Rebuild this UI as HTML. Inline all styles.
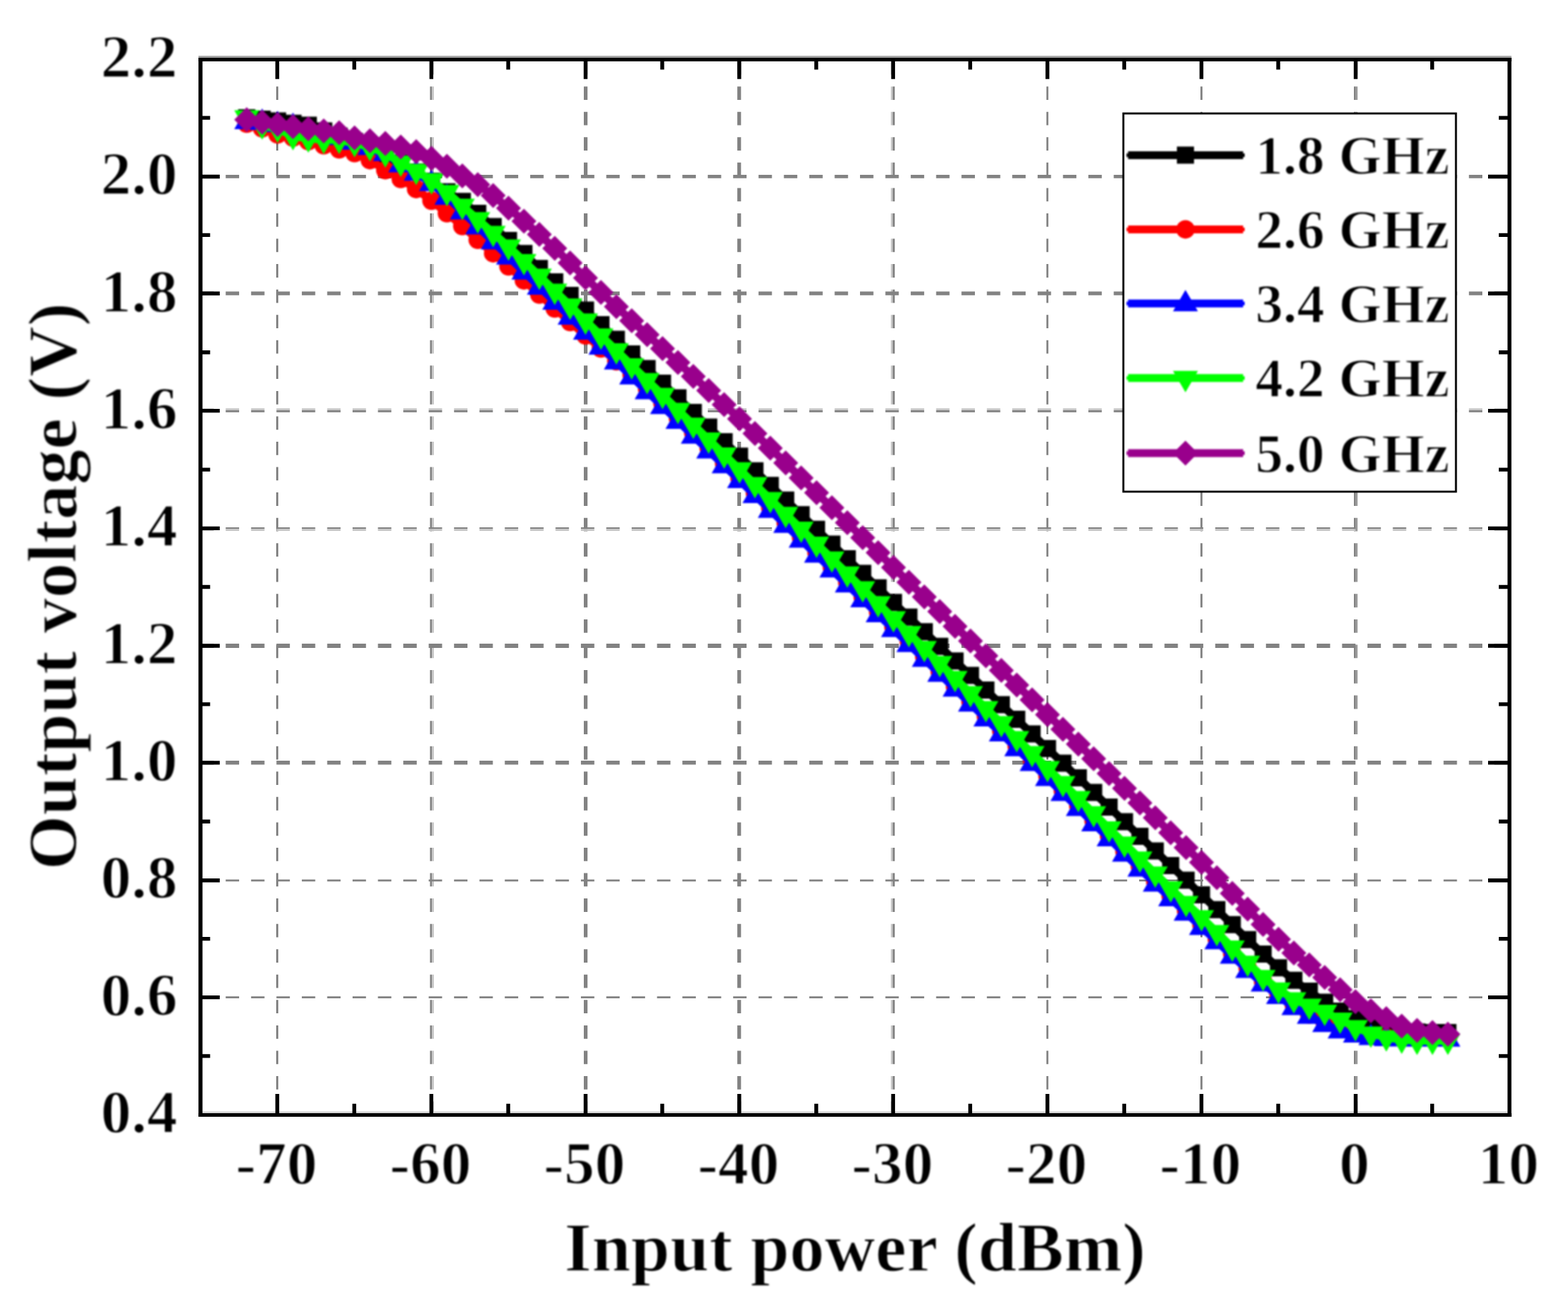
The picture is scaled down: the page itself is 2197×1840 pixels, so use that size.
<!DOCTYPE html>
<html lang="en"><head><meta charset="utf-8"><title>Output voltage vs input power</title>
<style>
html,body{margin:0;padding:0;background:#fff}
svg{display:block}
text{font-family:"Liberation Serif","DejaVu Serif",serif;font-weight:bold;fill:#000;stroke:#fff;stroke-width:1.4px}
.tk{font-size:85px;letter-spacing:0.5px}
.ti{font-size:98px;letter-spacing:0.3px}
.lg{font-size:77.3px;letter-spacing:0.2px}
</style></head><body>
<svg width="2197" height="1840" viewBox="0 0 2197 1840">
<defs><filter id="soft" color-interpolation-filters="sRGB" filterUnits="userSpaceOnUse" x="-20" y="-20" width="2237" height="1880"><feGaussianBlur stdDeviation="0.85"/></filter></defs>
<rect width="2197" height="1840" fill="#fff"/>
<g fill="none" stroke-dasharray="18.8 16.76">
<path d="M388.45 85.6V1562.5" stroke="#828282" stroke-width="2.9"/>
<path d="M603.75 85.6V1562.5" stroke="#828282" stroke-width="2.5"/>
<path d="M606.45 85.6V1562.5" stroke="#c6c6c6" stroke-width="2.9"/>
<path d="M820.60 85.6V1562.5" stroke="#828282" stroke-width="5.2"/>
<path d="M1035.70 85.6V1562.5" stroke="#828282" stroke-width="5.2"/>
<path d="M1249.60 85.6V1562.5" stroke="#c6c6c6" stroke-width="2.6"/>
<path d="M1252.30 85.6V1562.5" stroke="#828282" stroke-width="2.8"/>
<path d="M1467.55 85.6V1562.5" stroke="#828282" stroke-width="2.7"/>
<path d="M1683.40 85.6V1562.5" stroke="#828282" stroke-width="2.8"/>
<path d="M1898.40 85.6V1562.5" stroke="#828282" stroke-width="2.8"/>
<path d="M1901.00 85.6V1562.5" stroke="#9a9a9a" stroke-width="2.4"/>
</g><g fill="none" stroke-dasharray="18.8 16.75">
<path d="M280.7 247.35H2115.0" stroke="#828282" stroke-width="4.9"/>
<path d="M280.7 411.15H2115.0" stroke="#828282" stroke-width="5.1"/>
<path d="M280.7 573.60H2115.0" stroke="#c6c6c6" stroke-width="2.6"/>
<path d="M280.7 576.30H2115.0" stroke="#828282" stroke-width="2.8"/>
<path d="M280.7 740.15H2115.0" stroke="#828282" stroke-width="2.3"/>
<path d="M280.7 742.60H2115.0" stroke="#c6c6c6" stroke-width="2.6"/>
<path d="M280.7 905.00H2115.0" stroke="#828282" stroke-width="5.8"/>
<path d="M280.7 1068.85H2115.0" stroke="#828282" stroke-width="5.5"/>
<path d="M280.7 1233.90H2115.0" stroke="#828282" stroke-width="2.6"/>
<path d="M280.7 1397.55H2115.0" stroke="#828282" stroke-width="2.7"/>
</g>
<g filter="url(#soft)">
<g><path d="M345.7 164.9L367.3 166.9L388.9 169.5L410.5 172.7L432.0 175.4L453.6 183.4L475.2 190.8L496.8 198.2L518.3 208.0L539.9 217.9L561.5 228.5L583.1 240.9L604.6 254.0L626.2 268.8L647.8 282.2L669.4 299.1L691.0 317.5L712.5 336.9L734.1 355.3L755.7 376.3L777.3 395.1L798.8 414.0L820.4 434.5L842.0 455.0L863.6 475.5L885.1 496.0L906.7 516.5L928.3 536.9L949.9 557.4L971.4 577.9L993.0 598.4L1014.6 618.9L1036.2 639.3L1057.8 659.8L1079.3 680.3L1100.9 700.8L1122.5 721.3L1144.1 741.8L1165.6 762.4L1187.2 782.9L1208.8 803.4L1230.4 823.8L1251.9 844.3L1273.5 864.8L1295.1 885.3L1316.7 905.7L1338.2 926.2L1359.8 946.6L1381.4 967.1L1403.0 987.5L1424.6 1008.0L1446.1 1028.4L1467.7 1048.9L1489.3 1069.4L1510.9 1089.9L1532.4 1110.4L1554.0 1130.9L1575.6 1151.4L1597.2 1171.9L1618.7 1192.4L1640.3 1212.9L1661.9 1233.4L1683.5 1253.9L1705.0 1274.7L1726.6 1295.8L1748.2 1316.8L1769.8 1337.1L1791.4 1356.3L1812.9 1373.7L1834.5 1389.0L1856.1 1404.5L1877.7 1417.1L1899.2 1427.4L1920.8 1435.7L1942.4 1441.4L1964.0 1444.6L1985.5 1446.3L2007.1 1446.9L2028.7 1447.1" fill="none" stroke="#000000" stroke-width="11.0" stroke-linejoin="round" stroke-linecap="round"/><path d="M333.7 152.9h24.0v24.0h-24.0zM355.3 154.9h24.0v24.0h-24.0zM376.9 157.5h24.0v24.0h-24.0zM398.5 160.7h24.0v24.0h-24.0zM420.0 163.4h24.0v24.0h-24.0zM441.6 171.4h24.0v24.0h-24.0zM463.2 178.8h24.0v24.0h-24.0zM484.8 186.2h24.0v24.0h-24.0zM506.3 196.0h24.0v24.0h-24.0zM527.9 205.9h24.0v24.0h-24.0zM549.5 216.5h24.0v24.0h-24.0zM571.1 228.9h24.0v24.0h-24.0zM592.6 242.0h24.0v24.0h-24.0zM614.2 256.8h24.0v24.0h-24.0zM635.8 270.2h24.0v24.0h-24.0zM657.4 287.1h24.0v24.0h-24.0zM679.0 305.5h24.0v24.0h-24.0zM700.5 324.9h24.0v24.0h-24.0zM722.1 343.3h24.0v24.0h-24.0zM743.7 364.3h24.0v24.0h-24.0zM765.3 383.1h24.0v24.0h-24.0zM786.8 402.0h24.0v24.0h-24.0zM808.4 422.5h24.0v24.0h-24.0zM830.0 443.0h24.0v24.0h-24.0zM851.6 463.5h24.0v24.0h-24.0zM873.1 484.0h24.0v24.0h-24.0zM894.7 504.5h24.0v24.0h-24.0zM916.3 524.9h24.0v24.0h-24.0zM937.9 545.4h24.0v24.0h-24.0zM959.4 565.9h24.0v24.0h-24.0zM981.0 586.4h24.0v24.0h-24.0zM1002.6 606.9h24.0v24.0h-24.0zM1024.2 627.3h24.0v24.0h-24.0zM1045.8 647.8h24.0v24.0h-24.0zM1067.3 668.3h24.0v24.0h-24.0zM1088.9 688.8h24.0v24.0h-24.0zM1110.5 709.3h24.0v24.0h-24.0zM1132.1 729.8h24.0v24.0h-24.0zM1153.6 750.4h24.0v24.0h-24.0zM1175.2 770.9h24.0v24.0h-24.0zM1196.8 791.4h24.0v24.0h-24.0zM1218.4 811.8h24.0v24.0h-24.0zM1239.9 832.3h24.0v24.0h-24.0zM1261.5 852.8h24.0v24.0h-24.0zM1283.1 873.3h24.0v24.0h-24.0zM1304.7 893.7h24.0v24.0h-24.0zM1326.2 914.2h24.0v24.0h-24.0zM1347.8 934.6h24.0v24.0h-24.0zM1369.4 955.1h24.0v24.0h-24.0zM1391.0 975.5h24.0v24.0h-24.0zM1412.6 996.0h24.0v24.0h-24.0zM1434.1 1016.4h24.0v24.0h-24.0zM1455.7 1036.9h24.0v24.0h-24.0zM1477.3 1057.4h24.0v24.0h-24.0zM1498.9 1077.9h24.0v24.0h-24.0zM1520.4 1098.4h24.0v24.0h-24.0zM1542.0 1118.9h24.0v24.0h-24.0zM1563.6 1139.4h24.0v24.0h-24.0zM1585.2 1159.9h24.0v24.0h-24.0zM1606.7 1180.4h24.0v24.0h-24.0zM1628.3 1200.9h24.0v24.0h-24.0zM1649.9 1221.4h24.0v24.0h-24.0zM1671.5 1241.9h24.0v24.0h-24.0zM1693.0 1262.7h24.0v24.0h-24.0zM1714.6 1283.8h24.0v24.0h-24.0zM1736.2 1304.8h24.0v24.0h-24.0zM1757.8 1325.1h24.0v24.0h-24.0zM1779.4 1344.3h24.0v24.0h-24.0zM1800.9 1361.7h24.0v24.0h-24.0zM1822.5 1377.0h24.0v24.0h-24.0zM1844.1 1392.5h24.0v24.0h-24.0zM1865.7 1405.1h24.0v24.0h-24.0zM1887.2 1415.4h24.0v24.0h-24.0zM1908.8 1423.7h24.0v24.0h-24.0zM1930.4 1429.4h24.0v24.0h-24.0zM1952.0 1432.6h24.0v24.0h-24.0zM1973.5 1434.3h24.0v24.0h-24.0zM1995.1 1434.9h24.0v24.0h-24.0zM2016.7 1435.1h24.0v24.0h-24.0z" fill="#000000"/></g>
<g><path d="M345.7 173.3L367.3 179.9L388.9 188.4L410.5 192.7L432.0 197.9L453.6 203.6L475.2 209.3L496.8 214.6L518.3 224.4L539.9 238.4L561.5 250.7L583.1 264.9L604.6 281.3L626.2 298.7L647.8 316.7L669.4 336.1L691.0 354.9L712.5 373.2L734.1 392.9L755.7 412.8L777.3 432.2L798.8 451.3L820.4 470.1L842.0 488.2L863.6 506.2L885.1 525.2L906.7 544.8L928.3 565.0L949.9 585.7L971.4 606.6L993.0 627.8L1014.6 648.9L1036.2 669.9L1057.8 690.7L1079.3 711.6L1100.9 732.4L1122.5 753.3L1144.1 774.2L1165.6 795.1L1187.2 815.9L1208.8 836.8L1230.4 857.7L1251.9 878.5L1273.5 899.4L1295.1 920.3L1316.7 941.1L1338.2 962.0L1359.8 982.9L1381.4 1003.8L1403.0 1024.6L1424.6 1045.5L1446.1 1066.4L1467.7 1087.2L1489.3 1108.2L1510.9 1129.3L1532.4 1150.6L1554.0 1171.8L1575.6 1193.0L1597.2 1214.1L1618.7 1235.0L1640.3 1255.7L1661.9 1276.0L1683.5 1295.9L1705.0 1316.0L1726.6 1336.4L1748.2 1356.5L1769.8 1375.6L1791.4 1393.2L1812.9 1408.6L1834.5 1421.7L1856.1 1432.4L1877.7 1441.2L1899.2 1447.6L1920.8 1451.6L1942.4 1453.7L1964.0 1454.3L1985.5 1454.8L2007.1 1455.1L2028.7 1455.2" fill="none" stroke="#ff0000" stroke-width="11.0" stroke-linejoin="round" stroke-linecap="round"/><path d="M332.7 173.3a13 13 0 1 0 26 0a13 13 0 1 0 -26 0zM354.3 179.9a13 13 0 1 0 26 0a13 13 0 1 0 -26 0zM375.9 188.4a13 13 0 1 0 26 0a13 13 0 1 0 -26 0zM397.5 192.7a13 13 0 1 0 26 0a13 13 0 1 0 -26 0zM419.0 197.9a13 13 0 1 0 26 0a13 13 0 1 0 -26 0zM440.6 203.6a13 13 0 1 0 26 0a13 13 0 1 0 -26 0zM462.2 209.3a13 13 0 1 0 26 0a13 13 0 1 0 -26 0zM483.8 214.6a13 13 0 1 0 26 0a13 13 0 1 0 -26 0zM505.3 224.4a13 13 0 1 0 26 0a13 13 0 1 0 -26 0zM526.9 238.4a13 13 0 1 0 26 0a13 13 0 1 0 -26 0zM548.5 250.7a13 13 0 1 0 26 0a13 13 0 1 0 -26 0zM570.1 264.9a13 13 0 1 0 26 0a13 13 0 1 0 -26 0zM591.6 281.3a13 13 0 1 0 26 0a13 13 0 1 0 -26 0zM613.2 298.7a13 13 0 1 0 26 0a13 13 0 1 0 -26 0zM634.8 316.7a13 13 0 1 0 26 0a13 13 0 1 0 -26 0zM656.4 336.1a13 13 0 1 0 26 0a13 13 0 1 0 -26 0zM678.0 354.9a13 13 0 1 0 26 0a13 13 0 1 0 -26 0zM699.5 373.2a13 13 0 1 0 26 0a13 13 0 1 0 -26 0zM721.1 392.9a13 13 0 1 0 26 0a13 13 0 1 0 -26 0zM742.7 412.8a13 13 0 1 0 26 0a13 13 0 1 0 -26 0zM764.3 432.2a13 13 0 1 0 26 0a13 13 0 1 0 -26 0zM785.8 451.3a13 13 0 1 0 26 0a13 13 0 1 0 -26 0zM807.4 470.1a13 13 0 1 0 26 0a13 13 0 1 0 -26 0zM829.0 488.2a13 13 0 1 0 26 0a13 13 0 1 0 -26 0zM850.6 506.2a13 13 0 1 0 26 0a13 13 0 1 0 -26 0zM872.1 525.2a13 13 0 1 0 26 0a13 13 0 1 0 -26 0zM893.7 544.8a13 13 0 1 0 26 0a13 13 0 1 0 -26 0zM915.3 565.0a13 13 0 1 0 26 0a13 13 0 1 0 -26 0zM936.9 585.7a13 13 0 1 0 26 0a13 13 0 1 0 -26 0zM958.4 606.6a13 13 0 1 0 26 0a13 13 0 1 0 -26 0zM980.0 627.8a13 13 0 1 0 26 0a13 13 0 1 0 -26 0zM1001.6 648.9a13 13 0 1 0 26 0a13 13 0 1 0 -26 0zM1023.2 669.9a13 13 0 1 0 26 0a13 13 0 1 0 -26 0zM1044.8 690.7a13 13 0 1 0 26 0a13 13 0 1 0 -26 0zM1066.3 711.6a13 13 0 1 0 26 0a13 13 0 1 0 -26 0zM1087.9 732.4a13 13 0 1 0 26 0a13 13 0 1 0 -26 0zM1109.5 753.3a13 13 0 1 0 26 0a13 13 0 1 0 -26 0zM1131.1 774.2a13 13 0 1 0 26 0a13 13 0 1 0 -26 0zM1152.6 795.1a13 13 0 1 0 26 0a13 13 0 1 0 -26 0zM1174.2 815.9a13 13 0 1 0 26 0a13 13 0 1 0 -26 0zM1195.8 836.8a13 13 0 1 0 26 0a13 13 0 1 0 -26 0zM1217.4 857.7a13 13 0 1 0 26 0a13 13 0 1 0 -26 0zM1238.9 878.5a13 13 0 1 0 26 0a13 13 0 1 0 -26 0zM1260.5 899.4a13 13 0 1 0 26 0a13 13 0 1 0 -26 0zM1282.1 920.3a13 13 0 1 0 26 0a13 13 0 1 0 -26 0zM1303.7 941.1a13 13 0 1 0 26 0a13 13 0 1 0 -26 0zM1325.2 962.0a13 13 0 1 0 26 0a13 13 0 1 0 -26 0zM1346.8 982.9a13 13 0 1 0 26 0a13 13 0 1 0 -26 0zM1368.4 1003.8a13 13 0 1 0 26 0a13 13 0 1 0 -26 0zM1390.0 1024.6a13 13 0 1 0 26 0a13 13 0 1 0 -26 0zM1411.6 1045.5a13 13 0 1 0 26 0a13 13 0 1 0 -26 0zM1433.1 1066.4a13 13 0 1 0 26 0a13 13 0 1 0 -26 0zM1454.7 1087.2a13 13 0 1 0 26 0a13 13 0 1 0 -26 0zM1476.3 1108.2a13 13 0 1 0 26 0a13 13 0 1 0 -26 0zM1497.9 1129.3a13 13 0 1 0 26 0a13 13 0 1 0 -26 0zM1519.4 1150.6a13 13 0 1 0 26 0a13 13 0 1 0 -26 0zM1541.0 1171.8a13 13 0 1 0 26 0a13 13 0 1 0 -26 0zM1562.6 1193.0a13 13 0 1 0 26 0a13 13 0 1 0 -26 0zM1584.2 1214.1a13 13 0 1 0 26 0a13 13 0 1 0 -26 0zM1605.7 1235.0a13 13 0 1 0 26 0a13 13 0 1 0 -26 0zM1627.3 1255.7a13 13 0 1 0 26 0a13 13 0 1 0 -26 0zM1648.9 1276.0a13 13 0 1 0 26 0a13 13 0 1 0 -26 0zM1670.5 1295.9a13 13 0 1 0 26 0a13 13 0 1 0 -26 0zM1692.0 1316.0a13 13 0 1 0 26 0a13 13 0 1 0 -26 0zM1713.6 1336.4a13 13 0 1 0 26 0a13 13 0 1 0 -26 0zM1735.2 1356.5a13 13 0 1 0 26 0a13 13 0 1 0 -26 0zM1756.8 1375.6a13 13 0 1 0 26 0a13 13 0 1 0 -26 0zM1778.4 1393.2a13 13 0 1 0 26 0a13 13 0 1 0 -26 0zM1799.9 1408.6a13 13 0 1 0 26 0a13 13 0 1 0 -26 0zM1821.5 1421.7a13 13 0 1 0 26 0a13 13 0 1 0 -26 0zM1843.1 1432.4a13 13 0 1 0 26 0a13 13 0 1 0 -26 0zM1864.7 1441.2a13 13 0 1 0 26 0a13 13 0 1 0 -26 0zM1886.2 1447.6a13 13 0 1 0 26 0a13 13 0 1 0 -26 0zM1907.8 1451.6a13 13 0 1 0 26 0a13 13 0 1 0 -26 0zM1929.4 1453.7a13 13 0 1 0 26 0a13 13 0 1 0 -26 0zM1951.0 1454.3a13 13 0 1 0 26 0a13 13 0 1 0 -26 0zM1972.5 1454.8a13 13 0 1 0 26 0a13 13 0 1 0 -26 0zM1994.1 1455.1a13 13 0 1 0 26 0a13 13 0 1 0 -26 0zM2015.7 1455.2a13 13 0 1 0 26 0a13 13 0 1 0 -26 0z" fill="#ff0000"/></g>
<g><path d="M345.7 170.1L367.3 170.9L388.9 174.2L410.5 176.7L432.0 183.7L453.6 187.4L475.2 192.3L496.8 198.8L518.3 206.2L539.9 214.8L561.5 230.5L583.1 242.2L604.6 256.7L626.2 276.1L647.8 296.6L669.4 317.4L691.0 338.6L712.5 359.7L734.1 380.8L755.7 401.9L777.3 423.0L798.8 444.0L820.4 465.0L842.0 486.0L863.6 506.8L885.1 527.7L906.7 548.5L928.3 569.2L949.9 590.0L971.4 610.8L993.0 631.5L1014.6 652.3L1036.2 673.1L1057.8 694.0L1079.3 714.8L1100.9 735.7L1122.5 756.6L1144.1 777.5L1165.6 798.3L1187.2 819.2L1208.8 840.1L1230.4 861.0L1251.9 881.8L1273.5 902.7L1295.1 923.6L1316.7 944.4L1338.2 965.3L1359.8 986.2L1381.4 1007.0L1403.0 1027.9L1424.6 1048.8L1446.1 1069.6L1467.7 1090.5L1489.3 1111.5L1510.9 1132.6L1532.4 1153.9L1554.0 1175.1L1575.6 1196.4L1597.2 1217.5L1618.7 1238.4L1640.3 1259.0L1661.9 1279.3L1683.5 1299.2L1705.0 1319.2L1726.6 1339.5L1748.2 1359.5L1769.8 1378.5L1791.4 1396.1L1812.9 1411.5L1834.5 1423.8L1856.1 1435.3L1877.7 1444.3L1899.2 1449.9L1920.8 1453.5L1942.4 1454.9L1964.0 1455.6L1985.5 1455.7L2007.1 1455.8L2028.7 1455.8" fill="none" stroke="#0000ff" stroke-width="11.0" stroke-linejoin="round" stroke-linecap="round"/><path d="M345.7 151.1l17.5 30h-35zM367.3 151.9l17.5 30h-35zM388.9 155.2l17.5 30h-35zM410.5 157.7l17.5 30h-35zM432.0 164.7l17.5 30h-35zM453.6 168.4l17.5 30h-35zM475.2 173.3l17.5 30h-35zM496.8 179.8l17.5 30h-35zM518.3 187.2l17.5 30h-35zM539.9 195.8l17.5 30h-35zM561.5 211.5l17.5 30h-35zM583.1 223.2l17.5 30h-35zM604.6 237.7l17.5 30h-35zM626.2 257.1l17.5 30h-35zM647.8 277.6l17.5 30h-35zM669.4 298.4l17.5 30h-35zM691.0 319.6l17.5 30h-35zM712.5 340.7l17.5 30h-35zM734.1 361.8l17.5 30h-35zM755.7 382.9l17.5 30h-35zM777.3 404.0l17.5 30h-35zM798.8 425.0l17.5 30h-35zM820.4 446.0l17.5 30h-35zM842.0 467.0l17.5 30h-35zM863.6 487.8l17.5 30h-35zM885.1 508.7l17.5 30h-35zM906.7 529.5l17.5 30h-35zM928.3 550.2l17.5 30h-35zM949.9 571.0l17.5 30h-35zM971.4 591.8l17.5 30h-35zM993.0 612.5l17.5 30h-35zM1014.6 633.3l17.5 30h-35zM1036.2 654.1l17.5 30h-35zM1057.8 675.0l17.5 30h-35zM1079.3 695.8l17.5 30h-35zM1100.9 716.7l17.5 30h-35zM1122.5 737.6l17.5 30h-35zM1144.1 758.5l17.5 30h-35zM1165.6 779.3l17.5 30h-35zM1187.2 800.2l17.5 30h-35zM1208.8 821.1l17.5 30h-35zM1230.4 842.0l17.5 30h-35zM1251.9 862.8l17.5 30h-35zM1273.5 883.7l17.5 30h-35zM1295.1 904.6l17.5 30h-35zM1316.7 925.4l17.5 30h-35zM1338.2 946.3l17.5 30h-35zM1359.8 967.2l17.5 30h-35zM1381.4 988.0l17.5 30h-35zM1403.0 1008.9l17.5 30h-35zM1424.6 1029.8l17.5 30h-35zM1446.1 1050.6l17.5 30h-35zM1467.7 1071.5l17.5 30h-35zM1489.3 1092.5l17.5 30h-35zM1510.9 1113.6l17.5 30h-35zM1532.4 1134.9l17.5 30h-35zM1554.0 1156.1l17.5 30h-35zM1575.6 1177.4l17.5 30h-35zM1597.2 1198.5l17.5 30h-35zM1618.7 1219.4l17.5 30h-35zM1640.3 1240.0l17.5 30h-35zM1661.9 1260.3l17.5 30h-35zM1683.5 1280.2l17.5 30h-35zM1705.0 1300.2l17.5 30h-35zM1726.6 1320.5l17.5 30h-35zM1748.2 1340.5l17.5 30h-35zM1769.8 1359.5l17.5 30h-35zM1791.4 1377.1l17.5 30h-35zM1812.9 1392.5l17.5 30h-35zM1834.5 1404.8l17.5 30h-35zM1856.1 1416.3l17.5 30h-35zM1877.7 1425.3l17.5 30h-35zM1899.2 1430.9l17.5 30h-35zM1920.8 1434.5l17.5 30h-35zM1942.4 1435.9l17.5 30h-35zM1964.0 1436.6l17.5 30h-35zM1985.5 1436.7l17.5 30h-35zM2007.1 1436.8l17.5 30h-35zM2028.7 1436.8l17.5 30h-35z" fill="#0000ff"/></g>
<g><path d="M345.7 164.5L367.3 175.7L388.9 180.3L410.5 190.8L432.0 194.1L453.6 196.1L475.2 196.1L496.8 200.5L518.3 206.2L539.9 214.9L561.5 228.0L583.1 239.5L604.6 252.8L626.2 269.2L647.8 288.5L669.4 307.3L691.0 326.6L712.5 345.6L734.1 366.1L755.7 386.6L777.3 407.4L798.8 428.3L820.4 449.3L842.0 470.2L863.6 491.0L885.1 511.9L906.7 532.7L928.3 553.5L949.9 574.4L971.4 595.2L993.0 616.0L1014.6 636.9L1036.2 657.7L1057.8 678.6L1079.3 699.4L1100.9 720.3L1122.5 741.1L1144.1 762.0L1165.6 782.8L1187.2 803.7L1208.8 824.6L1230.4 845.5L1251.9 866.4L1273.5 887.3L1295.1 908.3L1316.7 929.3L1338.2 950.3L1359.8 971.4L1381.4 992.4L1403.0 1013.4L1424.6 1034.4L1446.1 1055.4L1467.7 1076.4L1489.3 1097.4L1510.9 1118.6L1532.4 1139.8L1554.0 1161.0L1575.6 1182.2L1597.2 1203.3L1618.7 1224.2L1640.3 1244.9L1661.9 1265.4L1683.5 1285.5L1705.0 1306.2L1726.6 1327.9L1748.2 1349.3L1769.8 1369.3L1791.4 1386.7L1812.9 1400.4L1834.5 1409.6L1856.1 1418.1L1877.7 1428.9L1899.2 1439.6L1920.8 1448.5L1942.4 1453.7L1964.0 1457.0L1985.5 1458.6L2007.1 1458.6L2028.7 1458.6" fill="none" stroke="#00ff00" stroke-width="11.0" stroke-linejoin="round" stroke-linecap="round"/><path d="M345.7 184.5l17.5 -30h-35zM367.3 195.7l17.5 -30h-35zM388.9 200.3l17.5 -30h-35zM410.5 210.8l17.5 -30h-35zM432.0 214.1l17.5 -30h-35zM453.6 216.1l17.5 -30h-35zM475.2 216.1l17.5 -30h-35zM496.8 220.5l17.5 -30h-35zM518.3 226.2l17.5 -30h-35zM539.9 234.9l17.5 -30h-35zM561.5 248.0l17.5 -30h-35zM583.1 259.5l17.5 -30h-35zM604.6 272.8l17.5 -30h-35zM626.2 289.2l17.5 -30h-35zM647.8 308.5l17.5 -30h-35zM669.4 327.3l17.5 -30h-35zM691.0 346.6l17.5 -30h-35zM712.5 365.6l17.5 -30h-35zM734.1 386.1l17.5 -30h-35zM755.7 406.6l17.5 -30h-35zM777.3 427.4l17.5 -30h-35zM798.8 448.3l17.5 -30h-35zM820.4 469.3l17.5 -30h-35zM842.0 490.2l17.5 -30h-35zM863.6 511.0l17.5 -30h-35zM885.1 531.9l17.5 -30h-35zM906.7 552.7l17.5 -30h-35zM928.3 573.5l17.5 -30h-35zM949.9 594.4l17.5 -30h-35zM971.4 615.2l17.5 -30h-35zM993.0 636.0l17.5 -30h-35zM1014.6 656.9l17.5 -30h-35zM1036.2 677.7l17.5 -30h-35zM1057.8 698.6l17.5 -30h-35zM1079.3 719.4l17.5 -30h-35zM1100.9 740.3l17.5 -30h-35zM1122.5 761.1l17.5 -30h-35zM1144.1 782.0l17.5 -30h-35zM1165.6 802.8l17.5 -30h-35zM1187.2 823.7l17.5 -30h-35zM1208.8 844.6l17.5 -30h-35zM1230.4 865.5l17.5 -30h-35zM1251.9 886.4l17.5 -30h-35zM1273.5 907.3l17.5 -30h-35zM1295.1 928.3l17.5 -30h-35zM1316.7 949.3l17.5 -30h-35zM1338.2 970.3l17.5 -30h-35zM1359.8 991.4l17.5 -30h-35zM1381.4 1012.4l17.5 -30h-35zM1403.0 1033.4l17.5 -30h-35zM1424.6 1054.4l17.5 -30h-35zM1446.1 1075.4l17.5 -30h-35zM1467.7 1096.4l17.5 -30h-35zM1489.3 1117.4l17.5 -30h-35zM1510.9 1138.6l17.5 -30h-35zM1532.4 1159.8l17.5 -30h-35zM1554.0 1181.0l17.5 -30h-35zM1575.6 1202.2l17.5 -30h-35zM1597.2 1223.3l17.5 -30h-35zM1618.7 1244.2l17.5 -30h-35zM1640.3 1264.9l17.5 -30h-35zM1661.9 1285.4l17.5 -30h-35zM1683.5 1305.5l17.5 -30h-35zM1705.0 1326.2l17.5 -30h-35zM1726.6 1347.9l17.5 -30h-35zM1748.2 1369.3l17.5 -30h-35zM1769.8 1389.3l17.5 -30h-35zM1791.4 1406.7l17.5 -30h-35zM1812.9 1420.4l17.5 -30h-35zM1834.5 1429.6l17.5 -30h-35zM1856.1 1438.1l17.5 -30h-35zM1877.7 1448.9l17.5 -30h-35zM1899.2 1459.6l17.5 -30h-35zM1920.8 1468.5l17.5 -30h-35zM1942.4 1473.7l17.5 -30h-35zM1964.0 1477.0l17.5 -30h-35zM1985.5 1478.6l17.5 -30h-35zM2007.1 1478.6l17.5 -30h-35zM2028.7 1478.6l17.5 -30h-35z" fill="#00ff00"/></g>
<g><path d="M345.7 167.8L367.3 171.2L388.9 174.4L410.5 177.5L432.0 180.6L453.6 183.4L475.2 185.9L496.8 193.3L518.3 197.2L539.9 201.1L561.5 206.0L583.1 212.5L604.6 222.0L626.2 233.0L647.8 246.4L669.4 258.8L691.0 274.1L712.5 291.7L734.1 309.9L755.7 328.6L777.3 348.0L798.8 368.5L820.4 389.4L842.0 409.7L863.6 429.7L885.1 449.5L906.7 469.0L928.3 488.5L949.9 508.0L971.4 527.5L993.0 547.2L1014.6 567.0L1036.2 587.1L1057.8 607.5L1079.3 628.1L1100.9 648.8L1122.5 669.7L1144.1 690.6L1165.6 711.6L1187.2 732.6L1208.8 753.5L1230.4 774.4L1251.9 795.2L1273.5 815.9L1295.1 836.5L1316.7 857.1L1338.2 877.7L1359.8 898.3L1381.4 918.9L1403.0 939.5L1424.6 960.1L1446.1 980.7L1467.7 1001.4L1489.3 1022.0L1510.9 1042.7L1532.4 1063.3L1554.0 1084.0L1575.6 1104.7L1597.2 1125.3L1618.7 1146.1L1640.3 1166.9L1661.9 1187.7L1683.5 1208.6L1705.0 1230.0L1726.6 1252.0L1748.2 1274.0L1769.8 1295.6L1791.4 1316.2L1812.9 1335.4L1834.5 1352.2L1856.1 1369.8L1877.7 1387.0L1899.2 1403.8L1920.8 1416.6L1942.4 1427.6L1964.0 1438.1L1985.5 1443.9L2007.1 1447.1L2028.7 1449.3" fill="none" stroke="#99008c" stroke-width="11.0" stroke-linejoin="round" stroke-linecap="round"/><path d="M345.7 150.3l17.5 17.5l-17.5 17.5l-17.5 -17.5zM367.3 153.7l17.5 17.5l-17.5 17.5l-17.5 -17.5zM388.9 156.9l17.5 17.5l-17.5 17.5l-17.5 -17.5zM410.5 160.0l17.5 17.5l-17.5 17.5l-17.5 -17.5zM432.0 163.1l17.5 17.5l-17.5 17.5l-17.5 -17.5zM453.6 165.9l17.5 17.5l-17.5 17.5l-17.5 -17.5zM475.2 168.4l17.5 17.5l-17.5 17.5l-17.5 -17.5zM496.8 175.8l17.5 17.5l-17.5 17.5l-17.5 -17.5zM518.3 179.7l17.5 17.5l-17.5 17.5l-17.5 -17.5zM539.9 183.6l17.5 17.5l-17.5 17.5l-17.5 -17.5zM561.5 188.5l17.5 17.5l-17.5 17.5l-17.5 -17.5zM583.1 195.0l17.5 17.5l-17.5 17.5l-17.5 -17.5zM604.6 204.5l17.5 17.5l-17.5 17.5l-17.5 -17.5zM626.2 215.5l17.5 17.5l-17.5 17.5l-17.5 -17.5zM647.8 228.9l17.5 17.5l-17.5 17.5l-17.5 -17.5zM669.4 241.3l17.5 17.5l-17.5 17.5l-17.5 -17.5zM691.0 256.6l17.5 17.5l-17.5 17.5l-17.5 -17.5zM712.5 274.2l17.5 17.5l-17.5 17.5l-17.5 -17.5zM734.1 292.4l17.5 17.5l-17.5 17.5l-17.5 -17.5zM755.7 311.1l17.5 17.5l-17.5 17.5l-17.5 -17.5zM777.3 330.5l17.5 17.5l-17.5 17.5l-17.5 -17.5zM798.8 351.0l17.5 17.5l-17.5 17.5l-17.5 -17.5zM820.4 371.9l17.5 17.5l-17.5 17.5l-17.5 -17.5zM842.0 392.2l17.5 17.5l-17.5 17.5l-17.5 -17.5zM863.6 412.2l17.5 17.5l-17.5 17.5l-17.5 -17.5zM885.1 432.0l17.5 17.5l-17.5 17.5l-17.5 -17.5zM906.7 451.5l17.5 17.5l-17.5 17.5l-17.5 -17.5zM928.3 471.0l17.5 17.5l-17.5 17.5l-17.5 -17.5zM949.9 490.5l17.5 17.5l-17.5 17.5l-17.5 -17.5zM971.4 510.0l17.5 17.5l-17.5 17.5l-17.5 -17.5zM993.0 529.7l17.5 17.5l-17.5 17.5l-17.5 -17.5zM1014.6 549.5l17.5 17.5l-17.5 17.5l-17.5 -17.5zM1036.2 569.6l17.5 17.5l-17.5 17.5l-17.5 -17.5zM1057.8 590.0l17.5 17.5l-17.5 17.5l-17.5 -17.5zM1079.3 610.6l17.5 17.5l-17.5 17.5l-17.5 -17.5zM1100.9 631.3l17.5 17.5l-17.5 17.5l-17.5 -17.5zM1122.5 652.2l17.5 17.5l-17.5 17.5l-17.5 -17.5zM1144.1 673.1l17.5 17.5l-17.5 17.5l-17.5 -17.5zM1165.6 694.1l17.5 17.5l-17.5 17.5l-17.5 -17.5zM1187.2 715.1l17.5 17.5l-17.5 17.5l-17.5 -17.5zM1208.8 736.0l17.5 17.5l-17.5 17.5l-17.5 -17.5zM1230.4 756.9l17.5 17.5l-17.5 17.5l-17.5 -17.5zM1251.9 777.7l17.5 17.5l-17.5 17.5l-17.5 -17.5zM1273.5 798.4l17.5 17.5l-17.5 17.5l-17.5 -17.5zM1295.1 819.0l17.5 17.5l-17.5 17.5l-17.5 -17.5zM1316.7 839.6l17.5 17.5l-17.5 17.5l-17.5 -17.5zM1338.2 860.2l17.5 17.5l-17.5 17.5l-17.5 -17.5zM1359.8 880.8l17.5 17.5l-17.5 17.5l-17.5 -17.5zM1381.4 901.4l17.5 17.5l-17.5 17.5l-17.5 -17.5zM1403.0 922.0l17.5 17.5l-17.5 17.5l-17.5 -17.5zM1424.6 942.6l17.5 17.5l-17.5 17.5l-17.5 -17.5zM1446.1 963.2l17.5 17.5l-17.5 17.5l-17.5 -17.5zM1467.7 983.9l17.5 17.5l-17.5 17.5l-17.5 -17.5zM1489.3 1004.5l17.5 17.5l-17.5 17.5l-17.5 -17.5zM1510.9 1025.2l17.5 17.5l-17.5 17.5l-17.5 -17.5zM1532.4 1045.8l17.5 17.5l-17.5 17.5l-17.5 -17.5zM1554.0 1066.5l17.5 17.5l-17.5 17.5l-17.5 -17.5zM1575.6 1087.2l17.5 17.5l-17.5 17.5l-17.5 -17.5zM1597.2 1107.8l17.5 17.5l-17.5 17.5l-17.5 -17.5zM1618.7 1128.6l17.5 17.5l-17.5 17.5l-17.5 -17.5zM1640.3 1149.4l17.5 17.5l-17.5 17.5l-17.5 -17.5zM1661.9 1170.2l17.5 17.5l-17.5 17.5l-17.5 -17.5zM1683.5 1191.1l17.5 17.5l-17.5 17.5l-17.5 -17.5zM1705.0 1212.5l17.5 17.5l-17.5 17.5l-17.5 -17.5zM1726.6 1234.5l17.5 17.5l-17.5 17.5l-17.5 -17.5zM1748.2 1256.5l17.5 17.5l-17.5 17.5l-17.5 -17.5zM1769.8 1278.1l17.5 17.5l-17.5 17.5l-17.5 -17.5zM1791.4 1298.7l17.5 17.5l-17.5 17.5l-17.5 -17.5zM1812.9 1317.9l17.5 17.5l-17.5 17.5l-17.5 -17.5zM1834.5 1334.7l17.5 17.5l-17.5 17.5l-17.5 -17.5zM1856.1 1352.3l17.5 17.5l-17.5 17.5l-17.5 -17.5zM1877.7 1369.5l17.5 17.5l-17.5 17.5l-17.5 -17.5zM1899.2 1386.3l17.5 17.5l-17.5 17.5l-17.5 -17.5zM1920.8 1399.1l17.5 17.5l-17.5 17.5l-17.5 -17.5zM1942.4 1410.1l17.5 17.5l-17.5 17.5l-17.5 -17.5zM1964.0 1420.6l17.5 17.5l-17.5 17.5l-17.5 -17.5zM1985.5 1426.4l17.5 17.5l-17.5 17.5l-17.5 -17.5zM2007.1 1429.6l17.5 17.5l-17.5 17.5l-17.5 -17.5zM2028.7 1431.8l17.5 17.5l-17.5 17.5l-17.5 -17.5z" fill="#99008c"/></g>
</g>
<g fill="none" stroke="#000">
<path d="M278.1 79.6H2117.7" stroke="#a0a0a0" stroke-width="2.8"/>
<path d="M283.6 1558.9H2112.3" stroke="#d4d4d4" stroke-width="2.6"/>
<path d="M278.1 83.5H2117.7" stroke-width="5.2"/>
<path d="M278.1 1562.5H2117.7" stroke-width="4.8"/>
<path d="M280.9 80.9V1564.9" stroke-width="5.6"/>
<path d="M2115 80.9V1564.9" stroke-width="5.4"/>
<path d="M388.5 1562.5v-29.5M388.5 83.5v27.2M496.4 1562.5v-15.8M496.4 83.5v13.9M604.4 1562.5v-29.5M604.4 83.5v27.2M712.1 1562.5v-15.8M712.1 83.5v13.9M820.5 1562.5v-29.5M820.5 83.5v27.2M927.9 1562.5v-15.8M927.9 83.5v13.9M1035.8 1562.5v-29.5M1035.8 83.5v27.2M1143.7 1562.5v-15.8M1143.7 83.5v13.9M1251.4 1562.5v-29.5M1251.4 83.5v27.2M1359.4 1562.5v-15.8M1359.4 83.5v13.9M1467.6 1562.5v-29.5M1467.6 83.5v27.2M1575.2 1562.5v-15.8M1575.2 83.5v13.9M1683.4 1562.5v-29.5M1683.4 83.5v27.2M1791.0 1562.5v-15.8M1791.0 83.5v13.9M1899.5 1562.5v-29.5M1899.5 83.5v27.2M2006.7 1562.5v-15.8M2006.7 83.5v13.9M281.0 1479.9h13.4M2115.0 1479.9h-15.0M281.0 1397.6h26.9M2115.0 1397.6h-30.0M281.0 1315.6h13.4M2115.0 1315.6h-15.0M281.0 1233.8h26.9M2115.0 1233.8h-30.0M281.0 1151.2h13.4M2115.0 1151.2h-15.0M281.0 1068.9h26.9M2115.0 1068.9h-30.0M281.0 986.9h13.4M2115.0 986.9h-15.0M281.0 905.0h26.9M2115.0 905.0h-30.0M281.0 822.5h13.4M2115.0 822.5h-15.0M281.0 740.4h26.9M2115.0 740.4h-30.0M281.0 658.1h13.4M2115.0 658.1h-15.0M281.0 575.6h26.9M2115.0 575.6h-30.0M281.0 493.8h13.4M2115.0 493.8h-15.0M281.0 411.2h26.9M2115.0 411.2h-30.0M281.0 329.4h13.4M2115.0 329.4h-15.0M281.0 247.5h26.9M2115.0 247.5h-30.0M281.0 165.1h13.4M2115.0 165.1h-15.0" stroke-width="5.4"/>
</g>
<g filter="url(#soft)">
<text class="tk" x="387.6" y="1658.6" text-anchor="middle">-70</text>
<text class="tk" x="603.3" y="1658.6" text-anchor="middle">-60</text>
<text class="tk" x="819.1" y="1658.6" text-anchor="middle">-50</text>
<text class="tk" x="1034.9" y="1658.6" text-anchor="middle">-40</text>
<text class="tk" x="1250.6" y="1658.6" text-anchor="middle">-30</text>
<text class="tk" x="1466.4" y="1658.6" text-anchor="middle">-20</text>
<text class="tk" x="1682.2" y="1658.6" text-anchor="middle">-10</text>
<text class="tk" x="1897.9" y="1658.6" text-anchor="middle">0</text>
<text class="tk" x="2113.7" y="1658.6" text-anchor="middle">10</text>
<text class="tk" x="249.0" y="1587.1" text-anchor="end">0.4</text>
<text class="tk" x="249.0" y="1422.7" text-anchor="end">0.6</text>
<text class="tk" x="249.0" y="1258.4" text-anchor="end">0.8</text>
<text class="tk" x="249.0" y="1094.0" text-anchor="end">1.0</text>
<text class="tk" x="249.0" y="929.7" text-anchor="end">1.2</text>
<text class="tk" x="249.0" y="765.3" text-anchor="end">1.4</text>
<text class="tk" x="249.0" y="601.0" text-anchor="end">1.6</text>
<text class="tk" x="249.0" y="436.6" text-anchor="end">1.8</text>
<text class="tk" x="249.0" y="272.3" text-anchor="end">2.0</text>
<text class="tk" x="249.0" y="107.9" text-anchor="end">2.2</text>
<text class="ti" x="1198.2" y="1780.6" text-anchor="middle">Input power (dBm)</text>
<text class="ti" transform="translate(106.6 821.5) rotate(-90)" text-anchor="middle">Output voltage (V)</text>
</g>
<rect x="1574" y="159" width="466" height="530" fill="#fff" stroke="#000" stroke-width="2.8"/>
<g filter="url(#soft)">
<path d="M1580.6 217.4H1741.8" stroke="#000000" stroke-width="11.0" fill="none"/><path d="M1578.4 217.4H1744" stroke="#000000" stroke-width="5" fill="none"/><path d="M1649.0 205.4h24.0v24.0h-24.0z" fill="#000000"/><text class="lg" x="1759.0" y="244.0">1.8 GHz</text>
<path d="M1580.6 321.4H1741.8" stroke="#ff0000" stroke-width="11.0" fill="none"/><path d="M1578.4 321.4H1744" stroke="#ff0000" stroke-width="5" fill="none"/><path d="M1648.0 321.4a13 13 0 1 0 26 0a13 13 0 1 0 -26 0z" fill="#ff0000"/><text class="lg" x="1759.0" y="348.0">2.6 GHz</text>
<path d="M1580.6 425.3H1741.8" stroke="#0000ff" stroke-width="11.0" fill="none"/><path d="M1578.4 425.3H1744" stroke="#0000ff" stroke-width="5" fill="none"/><path d="M1661.0 406.3l17.5 30h-35z" fill="#0000ff"/><text class="lg" x="1759.0" y="451.9">3.4 GHz</text>
<path d="M1580.6 529.7H1741.8" stroke="#00ff00" stroke-width="11.0" fill="none"/><path d="M1578.4 529.7H1744" stroke="#00ff00" stroke-width="5" fill="none"/><path d="M1661.0 549.7l17.5 -30h-35z" fill="#00ff00"/><text class="lg" x="1759.0" y="556.3">4.2 GHz</text>
<path d="M1580.6 634.9H1741.8" stroke="#99008c" stroke-width="11.0" fill="none"/><path d="M1578.4 634.9H1744" stroke="#99008c" stroke-width="5" fill="none"/><path d="M1661.0 617.4l17.5 17.5l-17.5 17.5l-17.5 -17.5z" fill="#99008c"/><text class="lg" x="1759.0" y="661.5">5.0 GHz</text>
</g>
</svg></body></html>
